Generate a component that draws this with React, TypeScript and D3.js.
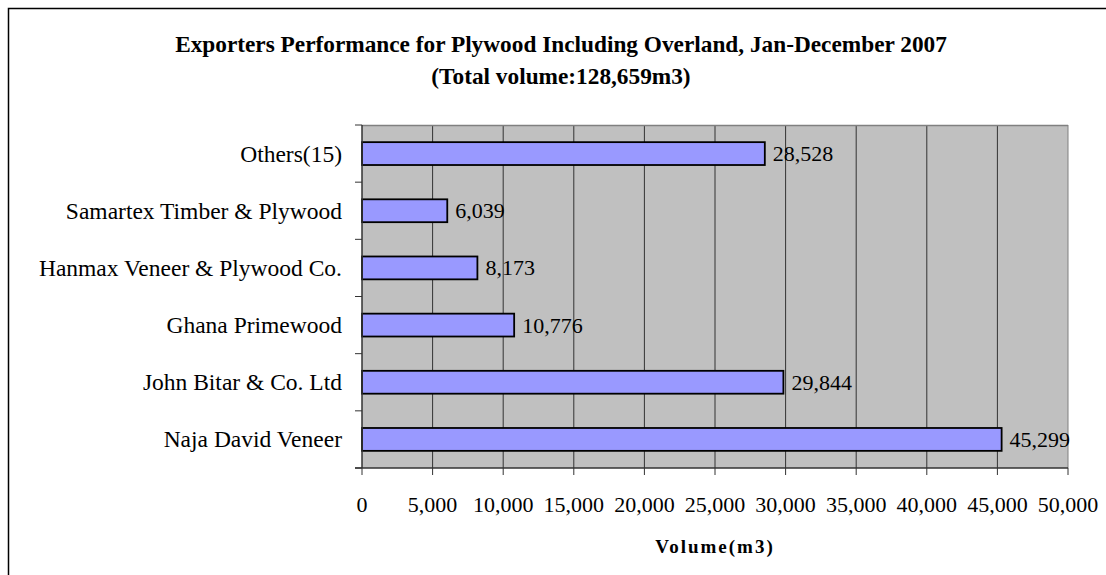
import React from "react";
import * as d3 from "d3";

const categories = [
  "Others(15)",
  "Samartex Timber & Plywood",
  "Hanmax Veneer & Plywood Co.",
  "Ghana Primewood",
  "John Bitar & Co. Ltd",
  "Naja David Veneer",
];
const volumes = [28528, 6039, 8173, 10776, 29844, 45299];
const xTicks = [0, 5000, 10000, 15000, 20000, 25000, 30000, 35000, 40000, 45000, 50000];
const titleLines = [
  "Exporters Performance for Plywood Including Overland, Jan-December 2007",
  "(Total volume:128,659m3)",
];
const xAxisTitle = "Volume(m3)";

const W = 1106;
const H = 575;
const plot = { left: 362, right: 1068, top: 125, bottom: 468 };
const FONT = "'Liberation Serif', 'Times New Roman', serif";

export default function App() {
  const x = d3.scaleLinear().domain([0, 50000]).range([plot.left, plot.right]);
  const y = d3
    .scaleBand<string>()
    .domain(categories)
    .range([plot.top, plot.bottom])
    .paddingInner(0.6)
    .paddingOuter(0.3);
  const fmt = d3.format(",");
  const bandEdges = d3
    .range(categories.length + 1)
    .map((i) => plot.top + i * ((plot.bottom - plot.top) / categories.length));

  return (
    <svg
      width={W}
      height={H}
      style={{ position: "absolute", left: 0, top: 0, background: "#fff" }}
      fontFamily={FONT}
    >
      <rect x={8.5} y={8.5} width={1300} height={800} fill="none" stroke="#000" strokeWidth={1.5} />
      {titleLines.map((t, i) => (
        <text key={i} x={561} y={52 + i * 32} textAnchor="middle" fontWeight="bold" fontSize={23.3}>
          {t}
        </text>
      ))}
      <rect x={plot.left} y={plot.top} width={plot.right - plot.left} height={plot.bottom - plot.top} fill="#c0c0c0" />
      {xTicks.slice(1).map((t) => (
        <line key={t} x1={x(t)} x2={x(t)} y1={plot.top} y2={plot.bottom} stroke={t === 50000 ? "#808080" : "#333"} strokeWidth={1} />
      ))}
      <line x1={plot.left} x2={plot.right} y1={plot.top + 0.5} y2={plot.top + 0.5} stroke="#808080" strokeWidth={1.5} />
      {categories.map((c, i) => (
        <g key={c}>
          <rect
            x={x(0)}
            y={y(c)!}
            width={x(volumes[i]) - x(0)}
            height={y.bandwidth()}
            fill="#9999ff"
            stroke="#000"
            strokeWidth={1.8}
          />
          <text x={x(volumes[i]) + 8} y={y(c)! + y.bandwidth() / 2} dominantBaseline="central" fontSize={22}>
            {fmt(volumes[i])}
          </text>
          <text x={342} y={y(c)! + y.bandwidth() / 2} dominantBaseline="central" textAnchor="end" fontSize={23.5}>
            {c}
          </text>
        </g>
      ))}
      <line x1={plot.left} x2={plot.left} y1={plot.top} y2={plot.bottom} stroke="#333" strokeWidth={1.5} />
      {bandEdges.map((e, i) => (
        <line key={i} x1={plot.left - 7} x2={plot.left} y1={e} y2={e} stroke="#333" strokeWidth={1} />
      ))}
      <line x1={plot.left - 7} x2={plot.right} y1={plot.bottom} y2={plot.bottom} stroke="#333" strokeWidth={1.5} />
      {xTicks.map((t) => (
        <g key={t}>
          <line x1={x(t)} x2={x(t)} y1={plot.bottom} y2={plot.bottom + 7} stroke="#333" strokeWidth={1} />
          <text x={x(t)} y={504} textAnchor="middle" dominantBaseline="central" fontSize={22}>
            {fmt(t)}
          </text>
        </g>
      ))}
      <text x={(plot.left + plot.right) / 2} y={546} textAnchor="middle" dominantBaseline="central" fontWeight="bold" fontSize={19} letterSpacing={2}>
        {xAxisTitle}
      </text>
    </svg>
  );
}
